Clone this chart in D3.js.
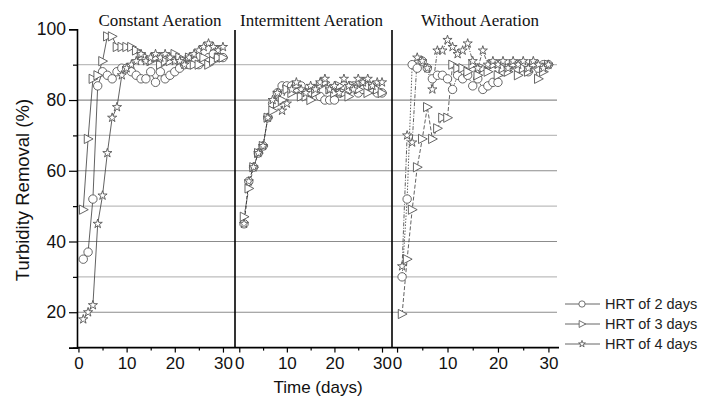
<!DOCTYPE html>
<html>
<head>
<meta charset="utf-8">
<script src="https://cdn.jsdelivr.net/npm/d3@7"></script>
<style>
  html, body { margin: 0; padding: 0; background: #fff; }
  svg { display: block; }
</style>
</head>
<body>
<svg id="chart" width="702" height="399"></svg>
<script>
// ---------------- data ----------------
const days = d3.range(1, 31);
const panelTitles = ["Constant Aeration", "Intermittent Aeration", "Without Aeration"];
const seriesNames = ["HRT of 2 days", "HRT of 3 days", "HRT of 4 days"];
const yTicksMajor = [20, 40, 60, 80, 100];
const yTicksMinor = [10, 30, 50, 70, 90];
const xTicksMajor = [0, 10, 20, 30];
const xTicksMinor = [5, 15, 25];

// Constant aeration
const constantHRT2 = [35,37,52,84,88,87,86,88,89,89,88,87,86,86,88,85,88,86,87,88,89,90,90,91,90,91,92,93,92,92];
const constantHRT3 = [49,69,86,87,91,98,98,95,95,95,95,94,93,92,91,92,90,91,91,93,92,91,92,90,90,92,90,91,92,92];
const constantHRT4 = [18,20,22,45,53,65,75,78,87,89,90,91,93,91,92,93,92,93,92,91,91,90,92,93,94,95,96,95,94,95];
// Intermittent aeration
const intermittentHRT2 = [45,57,61,65,67,75,79,82,84,84,84,83,84,82,82,83,81,80,80,80,82,84,83,84,82,83,84,83,82,82];
const intermittentHRT3 = [47,55,61,65,67,75,77,79,80,83,82,84,81,81,80,82,84,85,83,82,84,82,81,84,83,85,82,84,83,82];
const intermittentHRT4 = [45,57,61,65,67,75,80,82,77,79,83,85,83,82,84,83,85,86,83,84,82,86,84,83,86,85,86,84,85,85];
// Without aeration
const withoutHRT2 = [30,52,90,89,91,89,86,87,87,86,83,87,86,87,84,86,83,84,85,85,88,89,90,89,90,88,90,89,90,90];
const withoutHRT3 = [19.5,35,49,61,69,78,69,72,75,75,90,89,89,88,90,87,89,88,90,87,89,88,90,87,89,88,90,86,88,90];
const withoutHRT4 = [33,70,68,92,91,89,83,94,94,97,95,93,94,96,91,89,94,90,91,90,91,89,91,90,91,89,91,90,89,90];

// ---------------- layout ----------------
const svg = d3.select("#chart");
const yTop = 29.3, yBottom = 347.6;
const y = d3.scaleLinear().domain([10, 100]).range([yBottom, yTop]);

const panels = [
  { title: panelTitles[0], domain: [-0.3, 32.5], range: [77, 235], titleX: 160,
    series: [constantHRT2, constantHRT3, constantHRT4], dash: [null, null, null] },
  { title: panelTitles[1], domain: [-0.9, 32.1], range: [235, 392], titleX: 311.5,
    series: [intermittentHRT2, intermittentHRT3, intermittentHRT4], dash: ["3,2", "3,2", "3,2"] },
  { title: panelTitles[2], domain: [-1, 31.7], range: [392, 557], titleX: 480,
    series: [withoutHRT2, withoutHRT3, withoutHRT4], dash: ["1.5,1.5", "4,2", "4,1.5,1,1.5"] }
];

const xLeft = 77, xRight = 557;

// grid lines
const grid = svg.append("g");
d3.range(20, 100, 10).forEach(v => {
  grid.append("line")
    .attr("x1", xLeft).attr("x2", xRight)
    .attr("y1", y(v)).attr("y2", y(v))
    .attr("stroke", (v % 20 === 0) ? "#8c8c8c" : "#bdbdbd")
    .attr("stroke-width", 1.2);
});

// marker shapes
const tri = "M-3.8,-4.6L5,0L-3.8,4.6Z";
const star = d3.symbol().type(d3.symbolStar).size(26)();
function drawMarker(g, k) {
  if (k === 0) {
    return g.append("circle").attr("r", 4.2);
  } else if (k === 1) {
    return g.append("path").attr("d", tri);
  } else {
    return g.append("path").attr("d", star);
  }
}

// panels
panels.forEach((p, pi) => {
  const x = d3.scaleLinear().domain(p.domain).range(p.range);
  const g = svg.append("g");
  const line = d3.line().x((d, i) => x(days[i])).y(d => y(d));

  p.series.forEach((vals, k) => {
    g.append("path")
      .datum(vals)
      .attr("d", line)
      .attr("fill", "none")
      .attr("stroke", "#3a3a3a")
      .attr("stroke-width", 0.8)
      .attr("stroke-dasharray", p.dash[k]);
  });
  p.series.forEach((vals, k) => {
    vals.forEach((v, i) => {
      const mg = g.append("g").attr("transform", `translate(${x(days[i])},${y(v)})`);
      drawMarker(mg, k)
        .attr("fill", "#fff")
        .attr("stroke", "#555")
        .attr("stroke-width", 0.9);
    });
  });

  // bottom axis ticks
  const axMaj = d3.axisBottom(x).tickValues(xTicksMajor).tickSize(5).tickPadding(4).tickFormat(d3.format("d"));
  const ag = svg.append("g").attr("transform", `translate(0,${yBottom})`).call(axMaj);
  ag.select(".domain").remove();
  ag.selectAll("line").attr("stroke", "#000").attr("stroke-width", 1.2);
  ag.selectAll("text").attr("font-family", "Liberation Sans, Arial, sans-serif").attr("font-size", 17).attr("fill", "#111");
  const axMin = d3.axisBottom(x).tickValues(xTicksMinor).tickSize(3).tickFormat("");
  const ag2 = svg.append("g").attr("transform", `translate(0,${yBottom})`).call(axMin);
  ag2.select(".domain").remove();
  ag2.selectAll("line").attr("stroke", "#000").attr("stroke-width", 1.2);

  // title
  svg.append("text")
    .attr("x", p.titleX).attr("y", 26)
    .attr("text-anchor", "middle")
    .attr("font-family", "Liberation Serif, Times New Roman, serif")
    .attr("font-size", 17)
    .attr("fill", "#111")
    .text(p.title);
});

// panel borders
[235, 392].forEach(xx => {
  svg.append("line").attr("x1", xx).attr("x2", xx).attr("y1", 30).attr("y2", yBottom)
    .attr("stroke", "#000").attr("stroke-width", 1.6);
});
// bottom axis line
svg.append("line").attr("x1", xLeft).attr("x2", xRight + 2).attr("y1", yBottom).attr("y2", yBottom)
  .attr("stroke", "#000").attr("stroke-width", 1.6);

// y axis
const yAxMaj = d3.axisLeft(y).tickValues(yTicksMajor).tickSize(8).tickPadding(3);
const yg = svg.append("g").attr("transform", `translate(${xLeft},0)`).call(yAxMaj);
yg.select(".domain").attr("stroke", "#000").attr("stroke-width", 1.6);
yg.selectAll("line").attr("stroke", "#000").attr("stroke-width", 1.2);
yg.selectAll("text").attr("font-family", "Liberation Sans, Arial, sans-serif").attr("font-size", 17.5).attr("fill", "#111");
const yAxMin = d3.axisLeft(y).tickValues(yTicksMinor).tickSize(4).tickFormat("");
const yg2 = svg.append("g").attr("transform", `translate(${xLeft},0)`).call(yAxMin);
yg2.select(".domain").remove();
yg2.selectAll("line").attr("stroke", "#000").attr("stroke-width", 1.2);

// axis titles
svg.append("text")
  .attr("transform", `translate(22,${190}) rotate(-90)`)
  .attr("text-anchor", "middle")
  .attr("dominant-baseline", "central")
  .attr("font-family", "Liberation Sans, Arial, sans-serif")
  .attr("font-size", 18.5).attr("fill", "#111")
  .text("Turbidity Removal (%)");
svg.append("text")
  .attr("x", 318).attr("y", 393)
  .attr("text-anchor", "middle")
  .attr("font-family", "Liberation Sans, Arial, sans-serif")
  .attr("font-size", 17).attr("fill", "#111")
  .text("Time (days)");

// legend
const legY = [304, 324, 344];
seriesNames.forEach((name, k) => {
  const lg = svg.append("g").attr("transform", `translate(0,${legY[k]})`);
  lg.append("line").attr("x1", 565).attr("x2", 600).attr("y1", 0).attr("y2", 0)
    .attr("stroke", "#555").attr("stroke-width", 0.9);
  const mg = lg.append("g").attr("transform", "translate(582,0) scale(0.75)");
  drawMarker(mg, k).attr("fill", "#fff").attr("stroke", "#555").attr("stroke-width", 1.1);
  lg.append("text").attr("x", 605).attr("y", 0)
    .attr("dominant-baseline", "central")
    .attr("font-family", "Liberation Sans, Arial, sans-serif")
    .attr("font-size", 14.5).attr("fill", "#222")
    .text(name);
});
</script>
</body>
</html>
